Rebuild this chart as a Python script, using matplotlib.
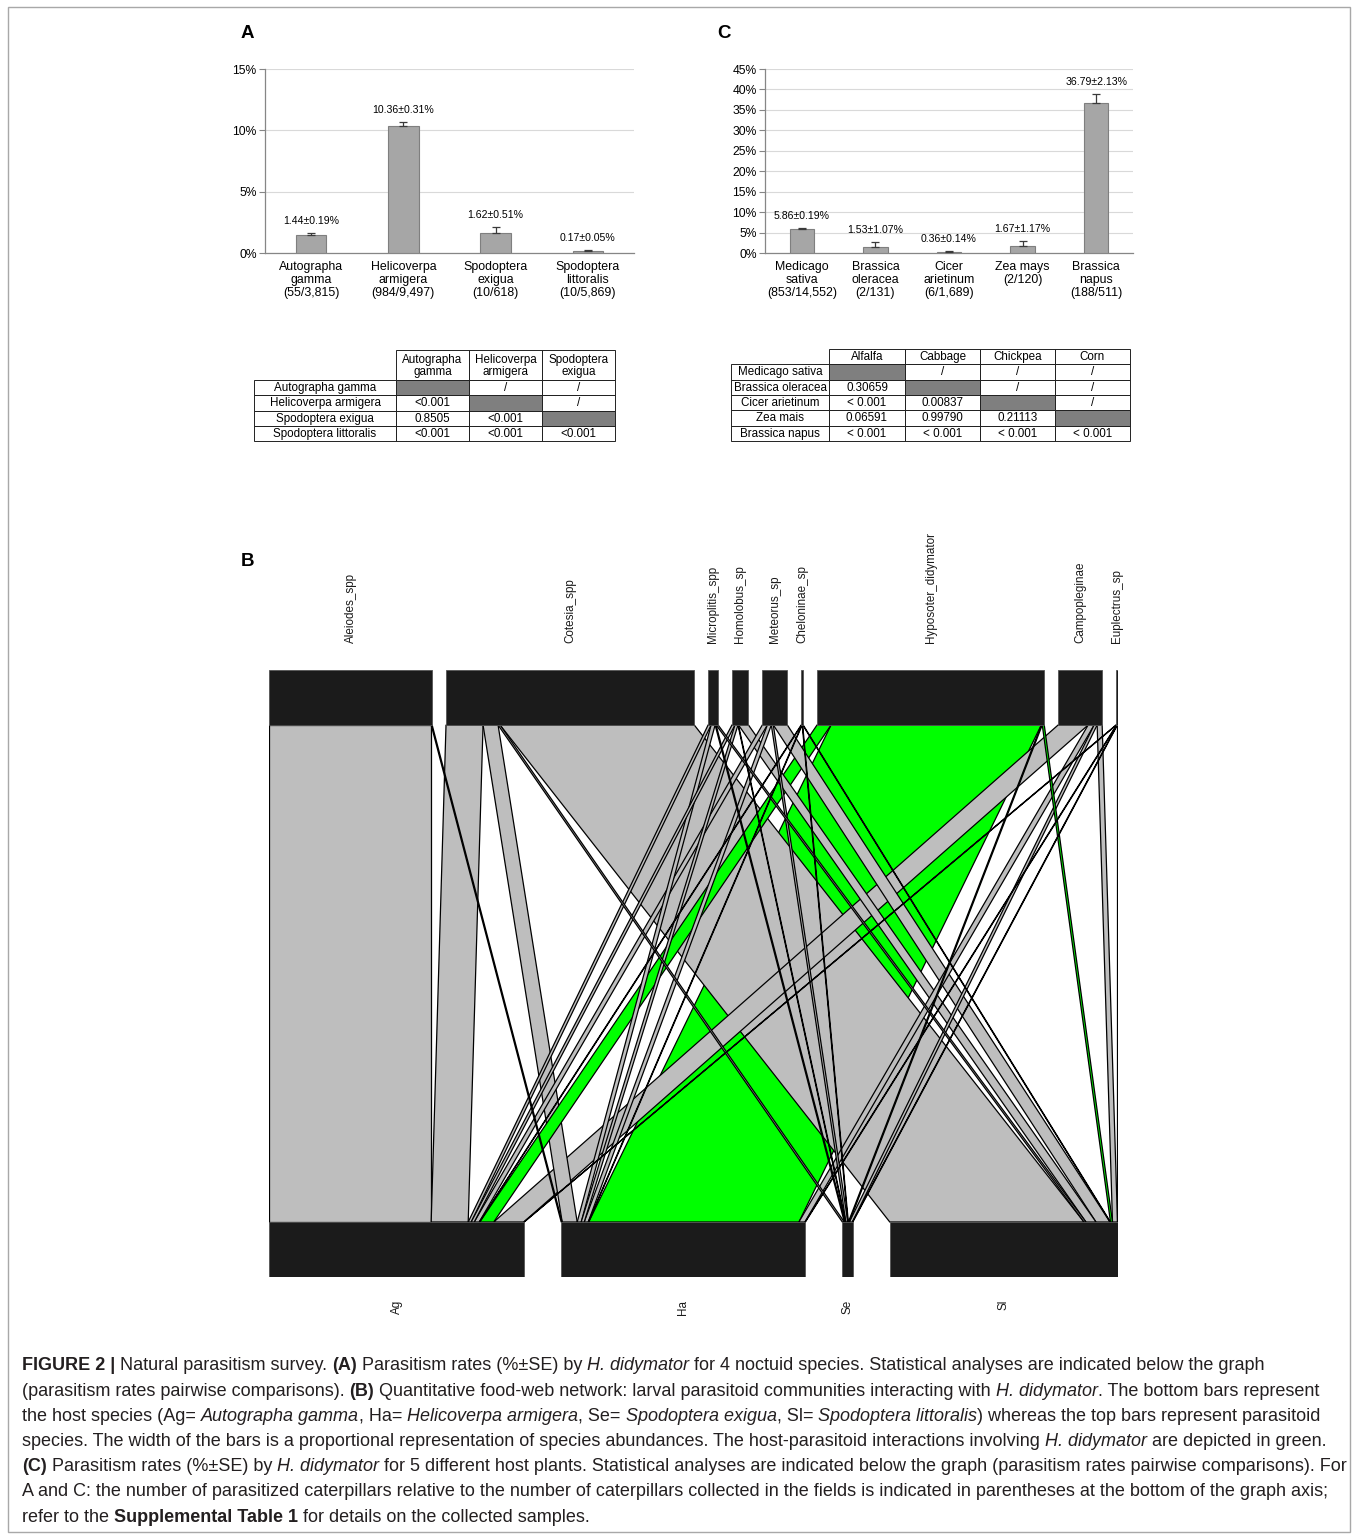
import matplotlib
matplotlib.use("Agg")
import matplotlib.pyplot as plt
from matplotlib.patches import Rectangle, Polygon
import numpy as np

plt.rcParams['font.family'] = ['Liberation Sans', 'DejaVu Sans']

# ---------------- data ----------------
# Panel A: parasitism rate per noctuid host
noctuid_labels = ["Autographa\ngamma\n(55/3,815)", "Helicoverpa\narmigera\n(984/9,497)",
                  "Spodoptera\nexigua\n(10/618)", "Spodoptera\nlittoralis\n(10/5,869)"]
noctuid_rate = [1.44, 10.36, 1.62, 0.17]
noctuid_se = [0.19, 0.31, 0.51, 0.05]

# Panel C: parasitism rate per host plant
plant_labels = ["Medicago\nsativa\n(853/14,552)", "Brassica\noleracea\n(2/131)",
                "Cicer\narietinum\n(6/1,689)", "Zea mays\n(2/120)", "Brassica\nnapus\n(188/511)"]
plant_rate = [5.86, 1.53, 0.36, 1.67, 36.79]
plant_se = [0.19, 1.07, 0.14, 1.17, 2.13]

# Pairwise comparison tables (None = diagonal cell)
tabA_cols = ["Autographa\ngamma", "Helicoverpa\narmigera", "Spodoptera\nexigua"]
tabA_rows = ["Autographa gamma", "Helicoverpa armigera", "Spodoptera exigua", "Spodoptera littoralis"]
tabA_vals = [[None, "/", "/"],
             ["<0.001", None, "/"],
             ["0.8505", "<0.001", None],
             ["<0.001", "<0.001", "<0.001"]]

tabC_cols = ["Alfalfa", "Cabbage", "Chickpea", "Corn"]
tabC_rows = ["Medicago sativa", "Brassica oleracea", "Cicer arietinum", "Zea mais", "Brassica napus"]
tabC_vals = [[None, "/", "/", "/"],
             ["0.30659", None, "/", "/"],
             ["< 0.001", "0.00837", None, "/"],
             ["0.06591", "0.99790", "0.21113", None],
             ["< 0.001", "< 0.001", "< 0.001", "< 0.001"]]

# Panel B: host x parasitoid interaction abundances
hosts = ["Ag", "Ha", "Se", "Sl"]
parasitoids = ["Aleiodes_spp", "Cotesia_spp", "Microplitis_spp", "Homolobus_sp", "Meteorus_sp",
               "Cheloninae_sp", "Hyposoter_didymator", "Campopleginae", "Euplectrus_sp"]
web_Ag = [162, 37, 3, 3, 5, 0.5, 14, 30, 0.5]
web_Ha = [1, 15, 4, 3, 4, 0.5, 210, 6, 0.5]
web_Se = [0, 2, 1, 0.5, 2, 0.5, 1, 3, 0.5]
web_Sl = [0, 194, 2, 10, 14, 0.5, 2, 5, 0.5]
focal_parasitoid = "Hyposoter_didymator"

# ---------------- figure ----------------
W, H = 1357, 1535
fig = plt.figure(figsize=(W / 100, H / 100), dpi=100)

# overlay in pixel coordinates for frame, tables, panel letters and caption
ov = fig.add_axes([0, 0, 1, 1], zorder=0)
ov.set_xlim(0, W)
ov.set_ylim(H, 0)
ov.axis('off')
ov.patch.set_alpha(0)

ov.add_patch(Rectangle((8, 7), 1342, 1525, fill=False, edgecolor='#A8A8A8', lw=1.0))


def px_axes(l, t, r, b, z=2):
    return fig.add_axes([l / W, 1 - b / H, (r - l) / W, (b - t) / H], zorder=z)


def bar_panel(ax, labels, rates, ses, ymax, ystep):
    x = np.arange(len(rates))
    ax.bar(x, rates, width=0.33, color='#A6A6A6', edgecolor='#7F7F7F', lw=0.8, zorder=3)
    ax.errorbar(x, rates, yerr=[np.zeros(len(ses)), ses], fmt='none', ecolor='#3A3A3A',
                elinewidth=0.9, capsize=3, capthick=0.9, zorder=4)
    for xi, r, s in zip(x, rates, ses):
        ax.annotate(f"{r:.2f}\u00b1{s:.2f}%", (xi, r + s), xytext=(0, 5),
                    textcoords='offset points', ha='center', va='bottom', fontsize=7.6)
    ax.set_xlim(-0.5, len(rates) - 0.5)
    ax.set_ylim(0, ymax)
    ax.set_yticks(np.arange(0, ymax + 0.01, ystep))
    ax.yaxis.set_major_formatter(lambda v, p: f"{v:.0f}%")
    ax.set_xticks(x)
    ax.set_xticklabels(labels, fontsize=8.9, linespacing=1.1)
    ax.grid(axis='y', color='#D9D9D9', lw=0.8, zorder=0)
    ax.set_axisbelow(True)
    for s in ('top', 'right'):
        ax.spines[s].set_visible(False)
    for s in ('left', 'bottom'):
        ax.spines[s].set_color('#868686')
        ax.spines[s].set_linewidth(0.9)
    ax.tick_params(axis='x', length=0, pad=6)
    ax.tick_params(axis='y', length=4, color='#868686', labelsize=8.7, pad=2)


axA = px_axes(265, 69, 634, 253)
bar_panel(axA, noctuid_labels, noctuid_rate, noctuid_se, 15, 5)
axC = px_axes(765, 69, 1133, 253)
bar_panel(axC, plant_labels, plant_rate, plant_se, 45, 5)

for letter, (lx, ly) in {"A": (247, 33), "C": (724, 33), "B": (247, 562)}.items():
    ov.text(lx, ly, letter, fontsize=13.5, fontweight='bold', ha='center', va='center')


def draw_table(x_edges, y_edges, cols, rows, vals, fs=8.4):
    # header cells (no cell above the row-label column)
    for j, c in enumerate(cols):
        x0, x1 = x_edges[j + 1], x_edges[j + 2]
        ov.add_patch(Rectangle((x0, y_edges[0]), x1 - x0, y_edges[1] - y_edges[0],
                               fill=False, edgecolor='#222222', lw=0.7))
        ov.text((x0 + x1) / 2, (y_edges[0] + y_edges[1]) / 2 + 0.5, c, ha='center', va='center',
                fontsize=fs, linespacing=1.0)
    for i, r in enumerate(rows):
        y0, y1 = y_edges[i + 1], y_edges[i + 2]
        ov.add_patch(Rectangle((x_edges[0], y0), x_edges[1] - x_edges[0], y1 - y0,
                               fill=False, edgecolor='#222222', lw=0.7))
        ov.text((x_edges[0] + x_edges[1]) / 2, (y0 + y1) / 2 + 0.5, r, ha='center', va='center',
                fontsize=fs)
        for j, v in enumerate(vals[i]):
            x0, x1 = x_edges[j + 1], x_edges[j + 2]
            ov.add_patch(Rectangle((x0, y0), x1 - x0, y1 - y0,
                                   facecolor='#7F7F7F' if v is None else 'none',
                                   edgecolor='#222222', lw=0.7))
            if v is not None:
                ov.text((x0 + x1) / 2, (y0 + y1) / 2 + 0.5, v, ha='center', va='center', fontsize=fs)


draw_table([254, 396, 469, 542, 615], [350, 380, 395.3, 410.6, 425.9, 441.2],
           tabA_cols, tabA_rows, tabA_vals)
draw_table([731, 829, 905, 980, 1055, 1130], [349, 364.3, 379.6, 394.9, 410.2, 425.5, 440.8],
           tabC_cols, tabC_rows, tabC_vals)

# ---------------- Panel B: bipartite food web ----------------
web = np.array([web_Ag, web_Ha, web_Se, web_Sl], dtype=float)
host_tot = web.sum(axis=1)
para_tot = web.sum(axis=0)
total = web.sum()
span = total * 1.15
gap_top = (span - total) / (len(parasitoids) - 1)
gap_bot = (span - total) / (len(hosts) - 1)
top_start = np.concatenate([[0], np.cumsum(para_tot + gap_top)[:-1]])
bot_start = np.concatenate([[0], np.cumsum(host_tot + gap_bot)[:-1]])

axB = px_axes(269, 670, 1118, 1277, z=3)
axB.set_xlim(0, span)
axB.set_ylim(0, 1)
axB.axis('off')
bar_h = 55 / 607
y_low, y_high = bar_h, 1 - bar_h

# position of each link inside the parasitoid bar (ordered by host) and host bar (ordered by parasitoid)
top_pos = np.zeros_like(web)
for j in range(web.shape[1]):
    acc = top_start[j]
    for i in range(web.shape[0]):
        top_pos[i, j] = acc
        acc += web[i, j]
bot_pos = np.zeros_like(web)
for i in range(web.shape[0]):
    acc = bot_start[i]
    for j in range(web.shape[1]):
        bot_pos[i, j] = acc
        acc += web[i, j]

# large links first so the thin ones stay visible on top
links = [(i, j) for i in range(web.shape[0]) for j in range(web.shape[1]) if web[i, j] > 0]
links.sort(key=lambda ij: -web[ij])
for z, (i, j) in enumerate(links):
    w = web[i, j]
    col = '#00FF00' if parasitoids[j] == focal_parasitoid else '#BEBEBE'
    poly = Polygon([(bot_pos[i, j], y_low), (bot_pos[i, j] + w, y_low),
                    (top_pos[i, j] + w, y_high), (top_pos[i, j], y_high)],
                   closed=True, facecolor=col, edgecolor='black', lw=0.9, zorder=1 + z * 0.01)
    axB.add_patch(poly)

for j, name in enumerate(parasitoids):
    axB.add_patch(Rectangle((top_start[j], y_high), para_tot[j], bar_h, facecolor='#1B1B1B',
                            edgecolor='#555555', lw=0.6, zorder=3))
    axB.text(top_start[j] + para_tot[j] / 2, 1.0445, name, rotation=90, ha='center', va='bottom',
             fontsize=8.4, color='#1A1A1A', clip_on=False)
for i, name in enumerate(hosts):
    axB.add_patch(Rectangle((bot_start[i], 0), host_tot[i], bar_h, facecolor='#1B1B1B',
                            edgecolor='#555555', lw=0.6, zorder=3))
    axB.text(bot_start[i] + host_tot[i] / 2, -0.038, name, rotation=90, ha='center', va='top',
             fontsize=8.4, color='#1A1A1A', clip_on=False)

# ---------------- caption ----------------
cap_lines = [
    [("FIGURE 2 |", 'b'), (" Natural parasitism survey. ", 'r'), ("(A)", 'b'),
     (" Parasitism rates (%\u00b1SE) by ", 'r'), ("H. didymator", 'i'),
     (" for 4 noctuid species. Statistical analyses are indicated below the graph", 'r')],
    [("(parasitism rates pairwise comparisons). ", 'r'), ("(B)", 'b'),
     (" Quantitative food-web network: larval parasitoid communities interacting with ", 'r'),
     ("H. didymator", 'i'), (". The bottom bars represent", 'r')],
    [("the host species (Ag= ", 'r'), ("Autographa gamma", 'i'), (", Ha= ", 'r'),
     ("Helicoverpa armigera", 'i'), (", Se= ", 'r'), ("Spodoptera exigua", 'i'), (", Sl= ", 'r'),
     ("Spodoptera littoralis", 'i'), (") whereas the top bars represent parasitoid", 'r')],
    [("species. The width of the bars is a proportional representation of species abundances. "
      "The host-parasitoid interactions involving ", 'r'), ("H. didymator", 'i'),
     (" are depicted in green.", 'r')],
    [("(C)", 'b'), (" Parasitism rates (%\u00b1SE) by ", 'r'), ("H. didymator", 'i'),
     (" for 5 different host plants. Statistical analyses are indicated below the graph "
      "(parasitism rates pairwise comparisons). For", 'r')],
    [("A and C: the number of parasitized caterpillars relative to the number of caterpillars "
      "collected in the fields is indicated in parentheses at the bottom of the graph axis;", 'r')],
    [("refer to the ", 'r'), ("Supplemental Table 1", 'b'), (" for details on the collected samples.", 'r')],
]

renderer = fig.canvas.get_renderer()
cap_fs = 13.0
cap_color = '#231F20'


def style_kw(s):
    return dict(fontweight='bold' if s == 'b' else 'normal',
                fontstyle='italic' if s == 'i' else 'normal')


def run_width(txt, s):
    t1 = ov.text(0, 0, "l" + txt + "l", fontsize=cap_fs, **style_kw(s))
    t2 = ov.text(0, 0, "ll", fontsize=cap_fs, **style_kw(s))
    w = t1.get_window_extent(renderer).width - t2.get_window_extent(renderer).width
    t1.remove()
    t2.remove()
    return w


for k, line in enumerate(cap_lines):
    x = 22
    y = 1366 + k * 25.2
    for txt, s in line:
        ov.text(x, y, txt, fontsize=cap_fs, color=cap_color, ha='left', va='center', **style_kw(s))
        x += run_width(txt, s)

fig.savefig("out.png", dpi=100)
